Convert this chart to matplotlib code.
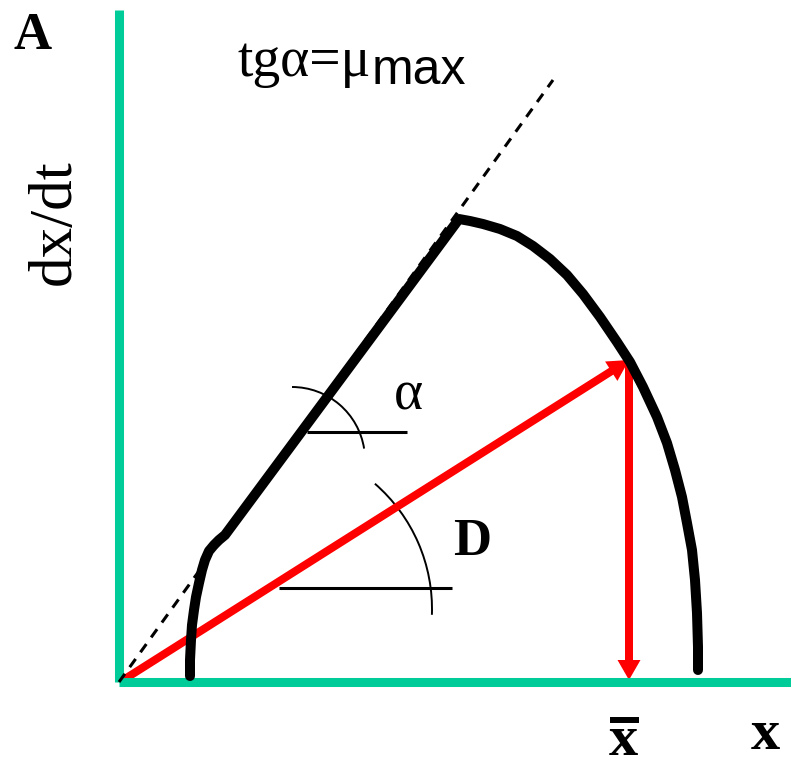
import matplotlib.pyplot as plt
from matplotlib.patches import Arc

# chemostat growth curve, units: origin at the corner of the two axes
axis_top = 6.72
axis_right = 6.72

# rising part of dx/dt(x)
rise_x = [0.71, 0.71, 0.72, 0.73, 0.75, 0.77, 0.80, 0.83, 0.86, 0.90, 0.95, 1.00, 1.06]
rise_y = [0.06, 0.22, 0.42, 0.57, 0.72, 0.85, 0.99, 1.12, 1.22, 1.31, 1.37, 1.42, 1.47]
# linear part, slope mu_max
lin_x = [1.06, 3.40]
lin_y = [1.47, 4.63]
# falling part after the maximum
fall_x = [3.40, 3.51, 3.64, 3.81, 3.98, 4.14, 4.31, 4.48, 4.64, 4.81, 4.98, 5.11,
          5.24, 5.38, 5.48, 5.56, 5.63, 5.68, 5.73, 5.76, 5.78, 5.79, 5.79]
fall_y = [4.63, 4.61, 4.58, 4.53, 4.46, 4.36, 4.23, 4.07, 3.88, 3.65, 3.40, 3.20,
          2.95, 2.65, 2.39, 2.12, 1.85, 1.59, 1.32, 1.02, 0.69, 0.35, 0.12]

# tangent tg(alpha) = mu_max
tangent_x = [0.0, 4.34]
tangent_y = [0.0, 6.02]

# steady state point (x_bar, D * x_bar)
x_bar = 5.10
dxdt_bar = 3.22

# angle marks: (centre x, centre y, radius, theta1, theta2), horizontal leg
alpha_arc = (1.73, 2.22, 0.73, 9, 90)
alpha_leg = ([1.88, 2.88], [2.50, 2.50])
d_arc = (1.47, 0.73, 1.66, -2, 49)
d_leg = ([1.60, 3.33], [0.94, 0.94])

green = '#00CC99'
red = '#FF0000'

fig = plt.figure(figsize=(7.91, 7.59), dpi=100)
ax = fig.add_axes([0, 0, 1, 1])
ax.set_xlim(-1.19, 6.72)
ax.set_ylim(-0.77, 6.82)
ax.axis('off')

# axes
ax.plot([0, 0], [0, axis_top], color=green, lw=6.5, solid_capstyle='butt')
ax.plot([0, axis_right], [0, 0], color=green, lw=6.5, solid_capstyle='butt')

# dashed tangent
ax.plot(tangent_x, tangent_y, color='black', lw=2.2, dashes=(3.3, 2.7))

# curve
cx = rise_x + lin_x[1:] + fall_x[1:]
cy = rise_y + lin_y[1:] + fall_y[1:]
ax.plot(cx, cy, color='black', lw=7.2, solid_capstyle='round', solid_joinstyle='round')

# angle marks
for (x0, y0, r, t1, t2), (lx, ly) in [(alpha_arc, alpha_leg), (d_arc, d_leg)]:
    ax.add_patch(Arc((x0, y0), 2 * r, 2 * r, theta1=t1, theta2=t2, color='black', lw=1.4))
    ax.plot(lx, ly, color='black', lw=2.2, solid_capstyle='butt')

# dilution rate arrow and x_bar arrow
ax.arrow(0.01, 0.0, x_bar - 0.01, dxdt_bar, width=0.08, head_width=0.23, head_length=0.21,
         length_includes_head=True, color=red, lw=0)
ax.arrow(x_bar, dxdt_bar + 0.02, 0, -dxdt_bar, width=0.08, head_width=0.23, head_length=0.20,
         length_includes_head=True, color=red, lw=0)

serif = 'Liberation Serif'
ax.text(-0.86, 6.33, 'A', family=serif, weight='bold', fontsize=38, ha='center', va='baseline')
ax.text(-0.64, 4.60, 'dx/dt', family=serif, fontsize=44, rotation=90, ha='center', va='center')
t1 = ax.text(1.19, 6.06, 'tgα=μ', family=serif, fontsize=40, ha='left', va='baseline')
ax.annotate('max', xy=(1, 0), xycoords=t1, xytext=(0, 3), textcoords='offset points',
            family='Liberation Sans', fontsize=36, ha='left', va='baseline')
ax.text(2.89, 2.72, 'α', family=serif, fontsize=40, ha='center', va='baseline')
ax.text(3.53, 1.27, 'D', family=serif, weight='bold', fontsize=38, ha='center', va='baseline')
ax.text(5.04, -0.73, 'x', family=serif, weight='bold', fontsize=42, ha='center', va='baseline')
ax.plot([4.91, 5.20], [-0.38, -0.38], color='black', lw=4.3, solid_capstyle='butt')
ax.text(6.46, -0.67, 'x', family=serif, weight='bold', fontsize=42, ha='center', va='baseline')

plt.savefig('out.png', dpi=100)
